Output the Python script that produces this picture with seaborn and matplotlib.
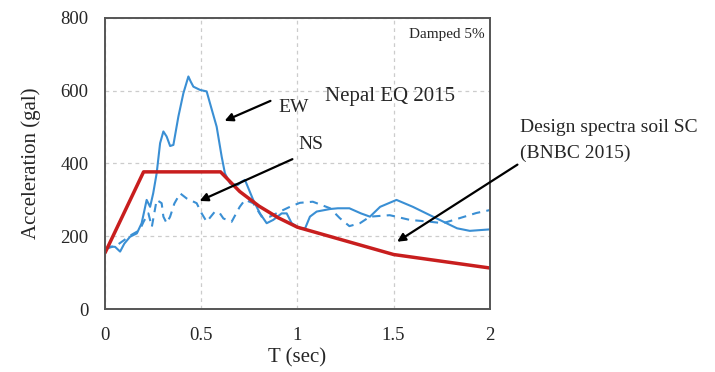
import matplotlib
matplotlib.use("Agg")
import matplotlib.pyplot as plt
import seaborn as sns
import pandas as pd

# Design spectrum (BNBC 2015, soil SC)
design_T = [0.0, 0.2, 0.6, 0.7, 0.8, 0.9, 1.0, 1.5, 2.0]
design_A = [155, 377, 377, 323, 283, 251, 225, 150, 113]

# EW component
ew_T = [0.0, 0.009, 0.03, 0.052, 0.078, 0.1, 0.13, 0.165, 0.19, 0.216, 0.234, 0.25, 0.268,
        0.286, 0.303, 0.32, 0.338, 0.355, 0.381, 0.407, 0.433, 0.445, 0.459, 0.494, 0.528,
        0.545, 0.58, 0.606, 0.623, 0.65, 0.69, 0.71, 0.727, 0.77, 0.805, 0.84, 0.874, 0.918,
        0.944, 0.97, 1.013, 1.04, 1.065, 1.1, 1.17, 1.21, 1.27, 1.33, 1.377, 1.43, 1.515,
        1.6, 1.72, 1.83, 1.896, 2.0]
ew_A = [170, 167, 172, 171, 158, 180, 199, 208, 236, 300, 281, 318, 373,
        456, 488, 474, 448, 451, 529, 593, 639, 625, 611, 602, 598,
        566, 501, 419, 373, 345, 341, 350, 355, 300, 263, 236, 245, 263,
        263, 236, 222, 222, 254, 268, 275, 277, 277, 263, 254, 281, 300,
        281, 250, 222, 215, 219]

# NS component
ns_T = [0.0, 0.03, 0.06, 0.1, 0.14, 0.18, 0.2, 0.225, 0.243, 0.268, 0.294, 0.303, 0.32,
        0.338, 0.36, 0.39, 0.424, 0.476, 0.502, 0.528, 0.571, 0.597, 0.615, 0.658, 0.70,
        0.727, 0.77, 0.814, 0.857, 0.909, 0.961, 1.013, 1.08, 1.17, 1.22, 1.27, 1.325,
        1.377, 1.48, 1.585, 1.69, 1.757, 1.844, 1.93, 2.0]
ns_A = [165, 170, 175, 190, 205, 217, 240, 263, 226, 300, 291, 254, 236,
        254, 290, 318, 304, 291, 263, 240, 268, 263, 249, 240, 281,
        300, 291, 254, 254, 268, 281, 292, 295, 277, 250, 228, 236,
        254, 258, 245, 240, 236, 250, 264, 272]

x_ticks = [0, 0.5, 1, 1.5, 2]
x_tick_labels = ["0", "0.5", "1", "1.5", "2"]
y_ticks = [0, 200, 400, 600, 800]

sns.set_theme(style="white")
plt.rcParams["font.family"] = ["Liberation Serif", "DejaVu Serif"]

fig = plt.figure(figsize=(7.15, 3.72), dpi=100)
ax = fig.add_axes([0.147, 0.169, 0.538, 0.783])

blue = "#3A8FD4"
red = "#C81E1E"

sns.lineplot(data=pd.DataFrame({"T": ew_T, "A": ew_A}), x="T", y="A", ax=ax,
             color=blue, linewidth=1.5, sort=False, estimator=None)
sns.lineplot(data=pd.DataFrame({"T": ns_T, "A": ns_A}), x="T", y="A", ax=ax,
             color=blue, linewidth=1.5, linestyle=(0, (4, 3)), sort=False, estimator=None)
sns.lineplot(data=pd.DataFrame({"T": design_T, "A": design_A}), x="T", y="A", ax=ax,
             color=red, linewidth=2.5, sort=False, estimator=None)

ax.set_xlim(0, 2)
ax.set_ylim(0, 800)
ax.set_xticks(x_ticks)
ax.set_xticklabels(x_tick_labels)
ax.set_yticks(y_ticks)
ax.tick_params(labelsize=13.5, length=0)
ax.tick_params(axis="x", pad=13)
ax.tick_params(axis="y", pad=12)
ax.grid(True, color="#cccccc", linestyle=(0, (3, 3)), linewidth=0.9)
for s in ax.spines.values():
    s.set_color("#555555")
    s.set_linewidth(1.4)
ax.set_xlabel("T (sec)", fontsize=15, labelpad=3)
ax.set_ylabel("Acceleration (gal)", fontsize=15, labelpad=14)

ax.text(1.974, 753, "Damped 5%", fontsize=11, ha="right", va="center")
ax.text(0.899, 555, "EW", fontsize=14, ha="left", va="center")
ax.text(1.143, 583, "Nepal EQ 2015", fontsize=15, ha="left", va="center")
ax.text(1.003, 451, "NS", fontsize=14, ha="left", va="center")
ax.text(2.156, 500, "Design spectra soil SC", fontsize=14, ha="left", va="center", clip_on=False)
ax.text(2.156, 429, "(BNBC 2015)", fontsize=14, ha="left", va="center", clip_on=False)

arrow = dict(arrowstyle="-|>", color="black", lw=1.6, mutation_scale=12)
ax.annotate("", xy=(0.608, 514), xytext=(0.873, 575), arrowprops=arrow)
ax.annotate("", xy=(0.478, 294), xytext=(0.987, 415), arrowprops=arrow)
ax.annotate("", xy=(1.506, 181), xytext=(2.156, 401), arrowprops=arrow, annotation_clip=False)

fig.savefig("out.png", dpi=100)
